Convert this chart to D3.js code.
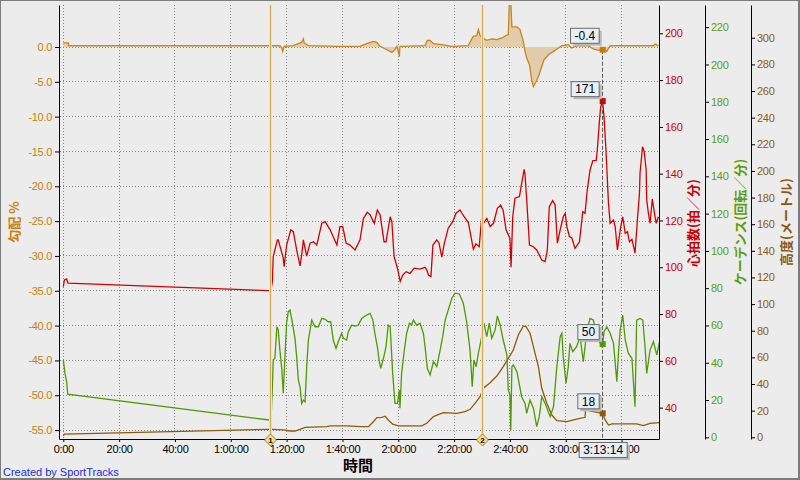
<!DOCTYPE html>
<html>
<head>
<meta charset="utf-8">
<script src="https://cdn.jsdelivr.net/npm/d3@7"></script>
<style>
body { margin: 0; background: #ececec; }
svg { display: block; font-family: "Liberation Sans", Arial, sans-serif; }
</style>
</head>
<body>
<svg id="chart" width="800" height="480"></svg>
<script>
// time in minutes, value
var heartRate = [[0,91.7],[0.4,94.6],[1.2,95.0],[1.7,93.2],[73.8,90.0],[74.4,90.3],[74.9,93.9],[75.2,104.5],[76.7,111.7],[77.0,111.7],[78.8,103.9],[79.1,100.3],[80.0,109.5],[81.5,116.0],[82.4,115.2],[83.6,107.4],[84.8,100.6],[85.4,105.3],[86.0,111.7],[86.6,108.1],[87.2,104.8],[88.4,110.3],[89.6,110.9],[90.8,109.5],[92.6,118.8],[93.8,119.5],[95.6,116.0],[98.0,109.5],[99.1,117.4],[100.1,117.4],[101.3,110.3],[102.7,109.5],[104.5,107.4],[106.3,111.7],[107.5,120.9],[108.9,123.5],[109.9,122.4],[111.4,118.8],[112.5,124.5],[113.5,122.4],[114.9,110.9],[115.6,110.9],[117.1,121.6],[117.7,119.5],[118.5,104.5],[119.7,99.6],[120.7,93.9],[121.6,96.7],[122.8,98.1],[124.2,97.4],[125.7,99.6],[127.8,99.2],[129.6,100.0],[130.2,98.9],[130.8,96.7],[131.7,96.0],[132.4,109.5],[133.8,111.7],[134.6,110.3],[135.6,104.3],[136.5,110.3],[137.9,116.7],[139.5,119.5],[140.7,123.1],[142.1,124.5],[143.6,121.6],[145.1,119.1],[146.9,107.7],[147.8,110.0],[149.0,108.8],[149.9,121.6],[150.7,119.1],[151.7,120.9],[152.9,117.4],[154.1,118.8],[155.5,125.2],[156.7,126.6],[157.6,124.2],[158.6,116.0],[160.0,112.4],[160.4,100.0],[161.0,121.6],[161.8,129.5],[163.4,130.2],[164.2,135.9],[165.1,141.9],[165.4,139.5],[165.9,130.9],[167.0,109.5],[168.4,108.8],[169.6,107.4],[171.4,103.1],[172.6,102.4],[173.4,107.4],[174.1,125.9],[175.3,128.5],[176.2,126.6],[177.0,110.3],[178.0,116.0],[179.1,121.6],[179.8,123.1],[180.4,117.4],[181.3,113.1],[182.2,112.4],[183.3,108.1],[184.9,110.9],[186.1,123.8],[186.9,123.1],[187.7,133.0],[188.7,141.6],[189.7,145.6],[190.9,145.6],[191.3,150.1],[192.0,161.6],[192.5,168.6],[193.2,171],[193.7,164.4],[194.4,150.1],[195.3,127.4],[195.9,118.8],[197.1,120.2],[197.7,117.4],[198.5,107.4],[199.5,116.0],[200.4,121.6],[201.3,114.5],[202.1,115.2],[202.8,110.9],[203.7,112.0],[204.8,106.0],[205.7,120.9],[206.4,131.6],[206.6,140.2],[207.5,151.5],[208.1,149.4],[208.8,141.6],[209.0,128.8],[209.6,123.1],[210.2,118.8],[211.0,129.2],[211.7,123.6],[212.4,118.8],[213.2,121.6]];

var cadence = [[0,41.5],[0.6,34.3],[1.2,29.8],[1.6,23.1],[73.8,9.3],[74.4,9.3],[74.9,27.1],[75.2,41.5],[75.8,42.4],[76.5,59.3],[77.0,57.6],[77.6,46.8],[78.3,36.1],[78.8,23.6],[79.4,43.2],[80.0,61.2],[80.6,67.4],[81.2,68.3],[82.0,62.0],[83.0,53.1],[83.6,43.2],[84.2,30.7],[84.8,27.1],[85.4,18.2],[86.0,20.0],[86.6,19.1],[87.2,37.9],[87.8,52.2],[89.0,62.9],[90.2,59.3],[91.4,59.3],[92.6,63.8],[93.8,63.3],[94.9,62.0],[95.8,62.0],[96.7,52.2],[97.7,47.7],[98.5,51.3],[99.7,55.8],[100.3,53.1],[101.5,52.2],[102.1,56.7],[103.3,60.2],[104.5,59.7],[105.7,60.2],[106.9,63.8],[108.1,65.1],[109.9,66.5],[110.9,62.9],[111.7,54.9],[112.5,48.6],[113.2,40.6],[113.7,37.0],[114.7,42.4],[115.6,48.6],[116.4,60.2],[117.1,59.3],[118.0,34.3],[118.8,18.2],[119.7,18.2],[120.4,25.4],[120.6,15.6],[121.2,34.3],[122.1,45.9],[123.0,55.8],[124.0,61.2],[124.8,60.2],[125.4,62.9],[126.6,60.2],[127.8,61.2],[129.0,55.8],[129.6,48.6],[130.4,37.0],[131.4,33.4],[132.6,40.6],[133.8,37.9],[135.0,46.8],[135.9,54.0],[136.8,62.9],[137.9,68.3],[139.2,74.6],[140.3,77.3],[141.9,76.9],[143.3,71.9],[144.5,62.0],[145.7,46.8],[146.5,27.1],[147.1,41.5],[147.9,37.9],[148.7,45.1],[149.9,54.0],[150.7,61.2],[151.7,54.0],[152.6,61.2],[153.5,53.1],[154.7,57.6],[155.5,65.1],[156.5,60.2],[157.6,52.2],[158.9,44.2],[159.4,25.4],[160.0,22.7],[160.3,3.9],[160.7,37.9],[161.2,38.8],[162.5,35.2],[164.2,21.8],[165.4,18.2],[166.0,12.9],[167.2,20.0],[168.4,15.6],[169.6,5.7],[170.5,11.1],[171.4,21.8],[172.6,18.2],[174.4,11.1],[175.6,16.4],[176.8,37.9],[178.0,54.0],[178.6,55.8],[179.1,43.2],[180.1,29.0],[180.9,37.9],[181.5,50.4],[182.5,45.9],[183.9,48.6],[185.1,54.0],[186.3,40.6],[187.5,56.7],[188.7,63.8],[189.9,62.9],[191.1,54.0],[192.9,49.0],[193.2,50],[193.7,56.7],[194.7,59.3],[195.9,55.8],[197.1,50.4],[198.3,29.8],[198.9,45.9],[199.5,57.6],[200.4,65.6],[201.3,52.2],[202.4,45.1],[203.7,42.4],[204.8,16.4],[205.4,62.9],[206.6,63.8],[207.6,62.9],[208.4,48.6],[209.0,34.3],[210.2,46.8],[211.4,51.3],[212.6,44.2],[213.5,50.8]];

var altitude = [[0,1.0],[0.4,2.3],[73.8,6.0],[75.2,6.0],[78.8,5.5],[81.2,4.7],[83.0,4.7],[84.8,6.0],[86.6,7.5],[94.4,8.0],[95.6,8.5],[102.1,8.5],[106.3,8.0],[109.3,8.0],[111.1,11.7],[112.3,14.7],[114.1,15.0],[115.3,15.8],[116.4,13.0],[118.0,9.8],[120.0,8.5],[128.4,8.5],[130.2,10.5],[132.6,15.5],[135.0,17.5],[136.2,18.5],[141.0,18.0],[143.9,19.2],[145.7,21.0],[147.5,25.5],[149.3,30.5],[150.5,36.8],[152.9,41.0],[155.3,46.0],[157.6,53.0],[159.8,60.5],[161.2,65.5],[163.0,76.8],[164.8,83.6],[165.8,83.0],[167.2,78.1],[168.4,68.0],[170.2,53.0],[171.4,36.8],[173.2,25.5],[175.0,16.7],[176.8,12.5],[180.4,11.7],[183.9,13.7],[186.9,15.0],[187.1,20.5],[189.9,19.2],[193.2,18],[194.1,13.0],[195.3,9.2],[196.5,10.0],[205.4,10.0],[207.8,8.7],[210.2,10.5],[213.4,11.0]];

var grade = [[0,0.6],[1.8,0.6],[1.9,0.2],[77.6,0.2],[78.3,-0.14],[78.6,-0.63],[79.1,0.1],[82.4,0.2],[84.2,0.48],[85.4,0.66],[86.0,1.15],[86.3,0.58],[87.8,0.2],[98.5,0.1],[106.3,0.1],[108.7,0.48],[111.1,0.81],[112.3,0.66],[113.5,0.1],[115.9,-0.39],[117.7,-0.78],[118.8,-0.39],[119.5,0.1],[120.0,-0.63],[120.4,-1.36],[120.6,0.1],[129.6,0.2],[130.4,0.95],[131.4,0.95],[132.6,0.48],[135.6,0.33],[139.2,0.1],[145.1,0.2],[146.3,1.15],[146.9,1.53],[148.1,1.63],[148.7,2.5],[149.3,1.63],[150.3,1.3],[151.7,0.95],[153.5,1.15],[155.3,1.05],[157.1,1.3],[158.6,1.63],[159.4,1.77],[159.8,6.5],[160.3,6.5],[160.7,2.89],[162.5,2.89],[163.6,2.5],[164.8,0.81],[165.4,-0.63],[166.0,-1.59],[167.0,-2.55],[167.8,-4.72],[168.4,-5.68],[169.4,-4.96],[170.2,-4.24],[171.4,-2.8],[172.2,-1.83],[173.8,-1.11],[175.6,-0.63],[177.4,-0.14],[178.6,0.2],[180.9,0.33],[182.1,-0.14],[183.9,0.2],[188.1,0.2],[189.9,-0.29],[191.7,-0.49],[193.2,-0.4],[194.7,-0.63],[195.9,0.2],[211.4,0.2],[212.0,0.43],[213.2,0.2]];

var lapTimes = [74.1, 150.0],
    lapLabels = ['1', '2'];

var cursorTime = 193.23,
    cursorLabel = '3:13:14',
    cursorGrade = -0.4,
    cursorHr = 171,
    cursorCad = 50,
    cursorAlt = 18;

var xTicks = [0, 20, 40, 60, 80, 100, 120, 140, 160, 180, 200],
    gradeTicks = [0, -5, -10, -15, -20, -25, -30, -35, -40, -45, -50, -55],
    hrTicks = [40, 60, 80, 100, 120, 140, 160, 180, 200],
    cadTicks = [0, 20, 40, 60, 80, 100, 120, 140, 160, 180, 200, 220],
    altTicks = [0, 20, 40, 60, 80, 100, 120, 140, 160, 180, 200, 220, 240, 260, 280, 300];

var plotL = 59, plotR = 659, plotT = 5, plotB = 439;

var cGrade = '#c8841e', cGradeText = '#c8800f', cHr = '#d40000',
    cCad = '#4e9a00', cAlt = '#8c5a0a';

var x = d3.scaleLinear().domain([-1.54, 213.4]).range([plotL, plotR]),
    yGrade = d3.scaleLinear().domain([-56.28, 6.03]).range([plotB, plotT]),
    yHr = d3.scaleLinear().domain([26.6, 212.1]).range([plotB, plotT]),
    yCad = d3.scaleLinear().domain([-0.9, 231.9]).range([plotB, plotT]),
    yAlt = d3.scaleLinear().domain([-1.3, 324.6]).range([plotB, plotT]);

var fmtTime = (m) => {
    var h = Math.floor(m / 60), mm = m % 60;
    var s = (h > 0 && mm < 10 ? '0' : '') + mm + ':00';
    return h > 0 ? h + ':' + s : s;
};

var svg = d3.select('#chart');

svg.append('rect').attr('width', 800).attr('height', 480).attr('fill', '#7c7c7c');
svg.append('rect').attr('x', 1).attr('y', 1).attr('width', 797).attr('height', 477).attr('fill', '#ececec');

svg.append('clipPath').attr('id', 'plot')
    .append('rect').attr('x', plotL).attr('y', plotT).attr('width', plotR - plotL).attr('height', plotB - plotT);

// grid
var grid = svg.append('g').attr('stroke', '#858585').attr('stroke-dasharray', '1,2')
    .attr('shape-rendering', 'crispEdges');
grid.selectAll('.h').data(gradeTicks).enter().append('line')
    .attr('x1', plotL + 1).attr('x2', plotR)
    .attr('y1', (d) => Math.floor(yGrade(d)) + 0.5)
    .attr('y2', (d) => Math.floor(yGrade(d)) + 0.5);
grid.selectAll('.v').data(xTicks).enter().append('line')
    .attr('y1', plotT).attr('y2', plotB)
    .attr('x1', (d) => Math.floor(x(d)) + 0.5)
    .attr('x2', (d) => Math.floor(x(d)) + 0.5);

var series = svg.append('g').attr('clip-path', 'url(#plot)');

var line = (y) => d3.line().x((d) => x(d[0])).y((d) => y(d[1]));

series.append('path').datum(altitude)
    .attr('d', line(yAlt)).attr('fill', 'none').attr('stroke', cAlt).attr('stroke-width', 1.3);
series.append('path').datum(cadence)
    .attr('d', line(yCad)).attr('fill', 'none').attr('stroke', cCad).attr('stroke-width', 1.3);
series.append('path').datum(heartRate)
    .attr('d', line(yHr)).attr('fill', 'none').attr('stroke', cHr).attr('stroke-width', 1.3);

series.append('path').datum(grade)
    .attr('d', d3.area().x((d) => x(d[0])).y0(yGrade(0)).y1((d) => yGrade(d[1])))
    .attr('fill', '#e2cdab');
series.append('path').datum(grade)
    .attr('d', line(yGrade)).attr('fill', 'none').attr('stroke', cGrade).attr('stroke-width', 1.3);

// lap lines, over the series
var laps = svg.append('g');
laps.selectAll('.lapw').data(lapTimes).enter().append('line')
    .attr('x1', (d) => Math.round(x(d)) + 0.5).attr('x2', (d) => Math.round(x(d)) + 0.5)
    .attr('y1', plotT).attr('y2', plotB)
    .attr('stroke', '#f1e2a6').attr('stroke-width', 3);
laps.selectAll('.lapc').data(lapTimes).enter().append('line')
    .attr('x1', (d) => Math.round(x(d)) + 0.5).attr('x2', (d) => Math.round(x(d)) + 0.5)
    .attr('y1', plotT).attr('y2', plotB)
    .attr('stroke', '#d6ad55').attr('stroke-width', 1);

// axes
var styleAxis = (g, color) => {
    g.attr('font-family', null).attr('font-size', null);
    g.selectAll('text').attr('fill', color).style('font-size', '11px').style('letter-spacing', '-0.3px');
    g.selectAll('line, path').attr('stroke', '#000');
};

svg.append('g').attr('transform', 'translate(' + plotL + ',0)')
    .call(d3.axisLeft(yGrade).tickValues(gradeTicks).tickFormat((d) => d.toFixed(1))
        .tickSize(4).tickSizeOuter(0).tickPadding(3))
    .call((g) => styleAxis(g, cGradeText));

svg.append('g').attr('transform', 'translate(0,' + plotB + ')')
    .call(d3.axisBottom(x).tickValues(xTicks).tickFormat(fmtTime)
        .tickSize(3).tickSizeOuter(0).tickPadding(3))
    .call((g) => styleAxis(g, '#000'));

svg.append('g').attr('transform', 'translate(' + plotR + ',0)')
    .call(d3.axisRight(yHr).tickValues(hrTicks).tickSize(4).tickSizeOuter(0).tickPadding(2))
    .call((g) => styleAxis(g, '#cc0000'));

svg.append('g').attr('transform', 'translate(705,0)')
    .call(d3.axisRight(yCad).tickValues(cadTicks).tickSize(4).tickSizeOuter(0).tickPadding(2))
    .call((g) => styleAxis(g, '#5a9e0a'));

svg.append('g').attr('transform', 'translate(751,0)')
    .call(d3.axisRight(yAlt).tickValues(altTicks).tickSize(4).tickSizeOuter(0).tickPadding(2))
    .call((g) => styleAxis(g, '#8b5a14'));

// axis titles
var title = (txt, tx, ty, color) => {
    svg.append('text').text(txt)
        .attr('transform', 'translate(' + tx + ',' + ty + ') rotate(-90)')
        .attr('text-anchor', 'middle').attr('dy', '0.35em')
        .attr('fill', color)
        .style('font-family', '"Noto Sans CJK JP", sans-serif')
        .style('font-size', '13px').style('font-weight', 'bold');
};
title('勾配 %', 14, 222, cGradeText);
title('心拍数(拍／分)', 693, 223, '#cc0000');
title('ケーデンス(回転／分)', 740, 222, '#5a9e0a');
title('高度(メートル)', 786, 222, '#8b5a14');

svg.append('text').text('時間')
    .attr('x', 358).attr('y', 471).attr('text-anchor', 'middle')
    .style('font-family', '"Noto Sans CJK JP", sans-serif')
    .style('font-size', '15px').style('font-weight', 'bold');

svg.append('text').text('Created by SportTracks')
    .attr('x', 3).attr('y', 476).attr('fill', '#1a2cf0').style('font-size', '11px');

// lap diamonds
var dia = svg.append('g').selectAll('g').data(lapTimes).enter().append('g')
    .attr('transform', (d) => 'translate(' + (Math.round(x(d)) + 0.5) + ',' + (plotB + 1) + ')');
dia.append('path').attr('d', 'M0,-6L6,0L0,6L-6,0Z')
    .attr('fill', '#f8e08a').attr('stroke', '#7a6420').attr('stroke-width', 0.8);
dia.append('text').text((_, i) => lapLabels[i])
    .attr('text-anchor', 'middle').attr('dy', '0.35em')
    .style('font-size', '8px').style('font-weight', 'bold');

// cursor
var cx = x(cursorTime);
svg.append('line')
    .attr('x1', Math.floor(cx) + 0.5).attr('x2', Math.floor(cx) + 0.5)
    .attr('y1', yGrade(cursorGrade)).attr('y2', plotB)
    .attr('stroke', '#5a5a5a').attr('stroke-dasharray', '4,2');

var marks = [[yGrade(cursorGrade), '#c87c10'], [yHr(cursorHr), '#d00000'],
             [yCad(cursorCad), '#4e9a00'], [yAlt(cursorAlt), '#8c5a0a']];
svg.append('g').selectAll('rect').data(marks).enter().append('rect')
    .attr('x', cx - 3).attr('y', (d) => d[0] - 3).attr('width', 6).attr('height', 6)
    .attr('fill', (d) => d[1]);

var tip = (label, bx, by, anchor) => {
    var g = svg.append('g');
    var t = g.append('text').text(label).style('font-size', '12px');
    var w = t.node().getComputedTextLength() + 8, h = 15;
    var x0 = anchor === 'middle' ? bx - w / 2 : bx - w;
    g.insert('rect', 'text').attr('x', x0 + 3).attr('y', by + 3).attr('width', w).attr('height', h)
        .attr('fill', '#bdbab6');
    g.insert('rect', 'text').attr('x', x0 + 0.5).attr('y', by + 0.5).attr('width', w).attr('height', h)
        .attr('fill', '#e6eef6').attr('stroke', '#6a6a6a');
    t.attr('x', x0 + w / 2 + 0.5).attr('y', by + h / 2 + 0.5).attr('dy', '0.36em').attr('text-anchor', 'middle');
};
tip(cursorGrade.toFixed(1), cx - 4, yGrade(cursorGrade) - 22, 'end');
tip(String(cursorHr), cx - 4, yHr(cursorHr) - 20, 'end');
tip(String(cursorCad), cx - 4, yCad(cursorCad) - 20, 'end');
tip(String(cursorAlt), cx - 4, yAlt(cursorAlt) - 20, 'end');
tip(cursorLabel, cx, 442, 'middle');
</script>
</body>
</html>
